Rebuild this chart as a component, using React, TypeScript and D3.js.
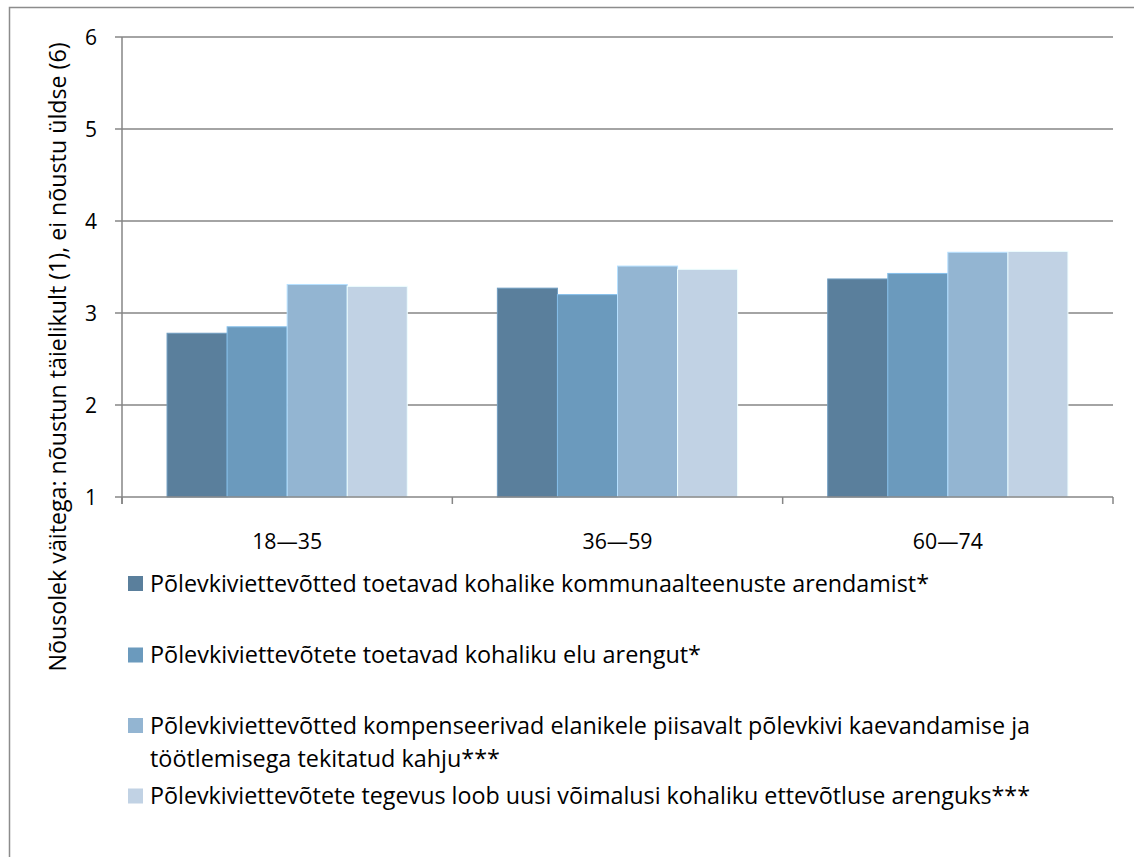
import React from "react";
import * as d3 from "d3";

const categories = ["18\u201435", "36\u201459", "60\u201474"];
const seriesNames = [
  "Põlevkiviettevõtted toetavad kohalike kommunaalteenuste arendamist*",
  "Põlevkiviettevõtete toetavad kohaliku elu arengut*",
  "Põlevkiviettevõtted kompenseerivad elanikele piisavalt põlevkivi kaevandamise ja|töötlemisega tekitatud kahju***",
  "Põlevkiviettevõtete tegevus loob uusi võimalusi kohaliku ettevõtluse arenguks***",
];
const s1 = [2.78, 3.27, 3.37];
const s2 = [2.85, 3.2, 3.43];
const s3 = [3.31, 3.51, 3.66];
const s4 = [3.29, 3.475, 3.67];
const seriesValues = [s1, s2, s3, s4];
const colors = ["#5a7f9c", "#6b9abd", "#93b5d2", "#c1d2e4"];
const yTicks = [1, 2, 3, 4, 5, 6];
const yTitle = "Nõusolek väitega: nõustun täielikult (1), ei nõustu üldse (6)";

const FONT = "'Open Sans', 'Noto Sans', sans-serif";
// rendered widths of the reference's (narrower) font
const legendWidths = [[779], [551], [880, 350], [880]];

export default function App() {
  const W = 1134, H = 857;
  const left = 122, right = 1113, top = 37, bottom = 497;
  const y = d3.scaleLinear().domain([1, 6]).range([bottom, top]);
  const x0 = d3.scaleBand().domain(categories).range([left, right]).paddingInner(0).paddingOuter(0);
  const bw = x0.bandwidth();
  const x1 = d3.scaleBand().domain(["0", "1", "2", "3"]).range([0, bw]).paddingOuter(0.75).paddingInner(0);
  const legendY = [583.5, 655, 725.5, 796];

  return (
    <svg width={W} height={H} style={{ position: "absolute", left: 0, top: 0 }}>
      <rect x={0} y={0} width={W} height={H} fill="#fff" />
      <path d={`M9.5,${H + 5} V7.5 H${W + 5}`} fill="none" stroke="#8c8c8c" strokeWidth={1.5} />
      {yTicks.slice(1).map((t) => (
        <line key={t} x1={115} x2={right} y1={y(t)} y2={y(t)} stroke="#868686" strokeWidth={1.5} />
      ))}
      {categories.map((c, ci) =>
        seriesValues.map((s, si) => {
          const xx = (x0(c) as number) + (x1(String(si)) as number);
          return (
            <rect key={`${ci}-${si}`} x={xx} y={y(s[ci])} width={x1.bandwidth()} height={bottom - y(s[ci])}
              fill={colors[si]} stroke={d3.color(colors[si])!.brighter(0.6).formatHex()} strokeWidth={1} />
          );
        })
      )}
      <line x1={left} x2={left} y1={top} y2={bottom + 7} stroke="#868686" strokeWidth={1.5} />
      <line x1={115} x2={right} y1={bottom} y2={bottom} stroke="#868686" strokeWidth={1.5} />
      {[...categories.map((c) => x0(c) as number), right].map((xv, i) => (
        <line key={i} x1={xv} x2={xv} y1={bottom} y2={bottom + 7} stroke="#868686" strokeWidth={1.5} />
      ))}
      {yTicks.map((t) => (
        <text key={t} x={97} y={y(t) + 7.5} textAnchor="end" fontFamily={FONT} fontSize={21} fill="#000">{t}</text>
      ))}
      {categories.map((c) => (
        <text key={c} x={(x0(c) as number) + bw / 2} y={549} textAnchor="middle" fontFamily={FONT} fontSize={22}
          textLength={70} lengthAdjust="spacingAndGlyphs" fill="#000">{c}</text>
      ))}
      <text transform={`translate(66,357) rotate(-90)`} textAnchor="middle" fontFamily={FONT} fontSize={23}
        textLength={629} lengthAdjust="spacingAndGlyphs" fill="#000">{yTitle}</text>
      {seriesNames.map((n, i) => {
        const lines = n.split("|");
        return (
          <g key={i}>
            <rect x={128} y={legendY[i] - 7.5} width={15} height={15} fill={colors[i]} />
            {lines.map((l, li) => (
              <text key={li} x={150} y={legendY[i] + 8 + li * 33} fontFamily={FONT} fontSize={23.5}
                textLength={legendWidths[i][li]} lengthAdjust="spacingAndGlyphs" fill="#000">{l}</text>
            ))}
          </g>
        );
      })}
    </svg>
  );
}
